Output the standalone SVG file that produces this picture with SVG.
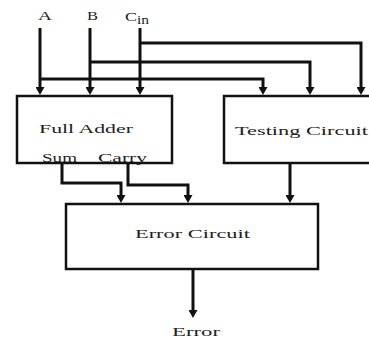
<svg xmlns="http://www.w3.org/2000/svg" width="369" height="338" viewBox="0 0 369 338">
<style>
.box{fill:#fff;stroke:#111;stroke-width:2.5}
.wire{fill:none;stroke:#111;stroke-width:3}
.lbl{font-family:"Liberation Serif","Times New Roman",serif;font-size:13px;fill:#222}
</style>
<defs>
<marker id="ah" markerUnits="userSpaceOnUse" viewBox="0 0 8 9" refX="4" refY="4.5" markerWidth="8" markerHeight="9" orient="auto">
<path d="M0,0 L8,4.5 L0,9 z" fill="#111"/>
</marker>
</defs>
<rect width="369" height="338" fill="#fff"/>
<g id="inputs">
<text class="lbl" x="38" y="20" textLength="14" lengthAdjust="spacingAndGlyphs">A</text>
<text class="lbl" x="87" y="20" textLength="11" lengthAdjust="spacingAndGlyphs">B</text>
<text class="lbl" x="125" y="21" textLength="12" lengthAdjust="spacingAndGlyphs">C</text>
<text class="lbl" x="137" y="24" font-size="9" textLength="12" lengthAdjust="spacingAndGlyphs">in</text>
</g>
<g id="full-adder">
<rect class="box" x="17" y="96" width="155" height="67"/>
<text class="lbl" x="39" y="133" textLength="94" lengthAdjust="spacingAndGlyphs">Full Adder</text>
<text class="lbl" x="42" y="162" textLength="35" lengthAdjust="spacingAndGlyphs">Sum</text>
<text class="lbl" x="98" y="162" textLength="49" lengthAdjust="spacingAndGlyphs">Carry</text>
</g>
<g id="testing-circuit">
<rect class="box" x="224" y="96" width="150" height="67"/>
<text class="lbl" x="235" y="135" textLength="133" lengthAdjust="spacingAndGlyphs">Testing Circuit</text>
</g>
<g id="error-circuit">
<rect class="box" x="66" y="204" width="252" height="65"/>
<text class="lbl" x="135" y="238" textLength="115" lengthAdjust="spacingAndGlyphs">Error Circuit</text>
</g>
<g id="error-output">
<text class="lbl" x="172" y="336" textLength="48" lengthAdjust="spacingAndGlyphs">Error</text>
</g>
<g id="connectors">
<path class="wire" d="M40,28 V91" marker-end="url(#ah)"/>
<path class="wire" d="M90,28 V91" marker-end="url(#ah)"/>
<path class="wire" d="M140,28 V91" marker-end="url(#ah)"/>
<path class="wire" d="M40,79 H263 V91" marker-end="url(#ah)"/>
<path class="wire" d="M90,62 H310 V91" marker-end="url(#ah)"/>
<path class="wire" d="M140,43 H361 V91" marker-end="url(#ah)"/>
<path class="wire" d="M62,163 V183 H121 V199" marker-end="url(#ah)"/>
<path class="wire" d="M128,163 V185 H188 V199" marker-end="url(#ah)"/>
<path class="wire" d="M290,163 V199" marker-end="url(#ah)"/>
<path class="wire" d="M193,269 V314" marker-end="url(#ah)"/>
</g>
</svg>
